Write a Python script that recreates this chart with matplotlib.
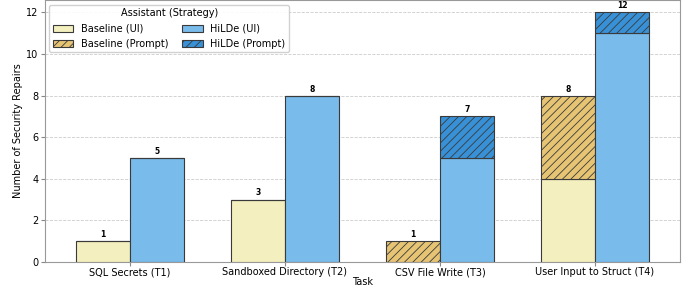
import numpy as np
import matplotlib.pyplot as plt

tasks = ["SQL Secrets (T1)", "Sandboxed Directory (T2)", "CSV File Write (T3)", "User Input to Struct (T4)"]
baseline_ui = [1, 3, 0, 4]
baseline_prompt = [0, 0, 1, 4]
hilde_ui = [5, 8, 5, 11]
hilde_prompt = [0, 0, 2, 1]

plt.rcParams['font.size'] = 7
plt.rcParams['hatch.linewidth'] = 0.6

fig, ax = plt.subplots(figsize=(6.97, 2.91), dpi=100)
fig.subplots_adjust(left=0.064, right=0.976, top=1.0, bottom=0.1)
x = np.arange(len(tasks))
w = 0.35
edge = '#3a3a3a'

ax.bar(x - w/2, baseline_ui, w, color='#f4efbf', edgecolor=edge, linewidth=0.8, label='Baseline (UI)', zorder=3)
ax.bar(x - w/2, baseline_prompt, w, bottom=baseline_ui, color='#e6c474', edgecolor=edge, linewidth=0.8,
       hatch='////', label='Baseline (Prompt)', zorder=3)
ax.bar(x + w/2, hilde_ui, w, color='#79bbea', edgecolor=edge, linewidth=0.8, label='HiLDe (UI)', zorder=3)
ax.bar(x + w/2, hilde_prompt, w, bottom=hilde_ui, color='#3891d6', edgecolor=edge, linewidth=0.8,
       hatch='////', label='HiLDe (Prompt)', zorder=3)

# totals above bars
for i in range(len(tasks)):
    b = baseline_ui[i] + baseline_prompt[i]
    h = hilde_ui[i] + hilde_prompt[i]
    ax.text(x[i] - w/2, b + 0.1, str(b), ha='center', va='bottom', fontsize=5.5, fontweight='bold')
    ax.text(x[i] + w/2, h + 0.1, str(h), ha='center', va='bottom', fontsize=5.5, fontweight='bold')

ax.set_xticks(x)
ax.set_xticklabels(tasks)
ax.set_xlabel('Task', labelpad=0)
ax.set_ylabel('Number of Security Repairs', labelpad=2)
ax.set_ylim(0, 12.6)
ax.set_xlim(-0.55, 3.55)
ax.tick_params(length=3, color='#888888')
ax.tick_params(axis='x', pad=1)
ax.tick_params(axis='y', pad=1.5)
ax.yaxis.grid(True, linestyle='--', color='#cccccc', linewidth=0.6, zorder=0)
for s in ax.spines.values():
    s.set_color('#999999')

ax.legend(title='Assistant (Strategy)', ncol=2, loc='upper left', fontsize=7, title_fontsize=7,
          columnspacing=1.4, handlelength=2.1, handleheight=0.7, borderpad=0.35, labelspacing=0.55,
          framealpha=0.9, edgecolor='#cccccc', bbox_to_anchor=(0.0, 1.0))

plt.savefig('out.png')
